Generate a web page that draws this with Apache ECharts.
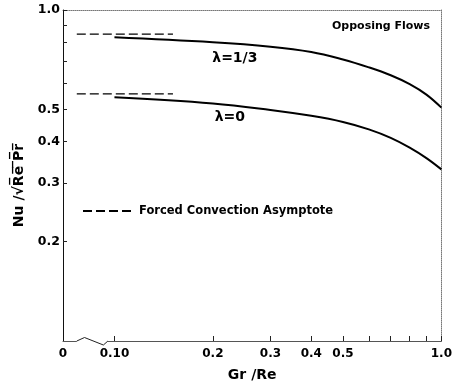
<!DOCTYPE html>
<html>
<head>
<meta charset="utf-8">
<script src="https://cdn.jsdelivr.net/npm/echarts@6/dist/echarts.min.js"></script>
<style>
html, body { margin: 0; padding: 0; background: #fff; }
#chart { width: 455px; height: 389px; }
</style>
</head>
<body>
<div id="chart"></div>
<script>
// Gr/Re values where the curves were read
const grRe = [0.1, 0.2, 0.3, 0.4, 0.5, 0.6, 0.7, 0.8, 0.9, 1.0];
// Nu/sqrt(Re Pr), lambda = 1/3
const nuLambda13 = [0.827, 0.799, 0.775, 0.747, 0.709, 0.671, 0.635, 0.597, 0.555, 0.507];
// Nu/sqrt(Re Pr), lambda = 0
const nuLambda0 = [0.545, 0.522, 0.499, 0.479, 0.459, 0.436, 0.411, 0.384, 0.357, 0.330];

// forced convection asymptotes (short dashed lines)
const asymX = [0.0767, 0.151];
const asymLambda13 = 0.846;
const asymLambda0 = 0.558;

// axis ticks and labels
const xMin = 0.0696, xMax = 1.0;
const xTicks = [0.1, 0.2, 0.3, 0.4, 0.5, 0.6, 0.7, 0.8, 0.9, 1.0];
const xLabels = [0.0696, 0.1, 0.2, 0.3, 0.4, 0.5, 1.0];
const yMin = 0.1, yMax = 1.0;
const yTicks = [0.2, 0.3, 0.4, 0.5, 0.6, 0.7, 0.8, 0.9, 1.0];
const yLabels = [0.2, 0.3, 0.4, 0.5, 1.0];

const font = 'DejaVu Sans';
const chart = echarts.init(document.getElementById('chart'));

function pairs(xs, ys) {
    return xs.map((x, i) => [x, ys[i]]);
}

function curveLabel(text, x, y, dist, dx) {
    return {
        symbol: 'circle',
        symbolSize: 0,
        label: { show: true, formatter: text, position: 'bottom', distance: dist, offset: [dx, 0],
                 color: '#000', fontFamily: font, fontSize: 14, fontWeight: 'bold' },
        data: [{ coord: [x, y] }]
    };
}

const asymName = 'Forced Convection Asymptote';

const option = {
    animation: false,
    backgroundColor: '#fff',
    grid: { left: 63, right: 9, top: 10, bottom: 48 },
    title: {
        text: 'Opposing Flows',
        left: 332, top: 21,
        padding: 0,
        textStyle: { fontFamily: font, fontSize: 11, fontWeight: 'bold', color: '#000' }
    },
    legend: {
        left: 82, top: 205,
        padding: 0,
        itemWidth: 51, itemHeight: 10,
        itemGap: 4,
        data: [{ name: asymName }],
        itemStyle: { opacity: 0 },
        textStyle: { fontFamily: font, fontSize: 11.5, fontWeight: 'bold', color: '#000' }
    },
    xAxis: [{
        type: 'log',
        min: xMin, max: xMax,
        name: 'Gr /Re',
        nameLocation: 'middle',
        nameGap: 27,
        nameTextStyle: { fontFamily: font, fontSize: 14, fontWeight: 'bold', color: '#000' },
        axisLine: { lineStyle: { color: '#555', width: 1 } },
        axisTick: { inside: true, length: 5, customValues: xTicks, lineStyle: { color: '#222' } },
        axisLabel: {
            customValues: xLabels,
            margin: 7,
            fontFamily: font, fontSize: 12, fontWeight: 'bold', color: '#000',
            formatter: v => v < 0.09 ? '0' : (v < 0.15 ? '0.10' : Number(v).toFixed(1))
        },
        splitLine: { show: false },
        minorTick: { show: false }
    }, {
        type: 'log',
        min: xMin, max: xMax,
        position: 'top',
        axisLine: { lineStyle: { color: '#777', width: 1, type: 'dotted' } },
        axisTick: { show: false },
        axisLabel: { show: false },
        splitLine: { show: false }
    }],
    yAxis: [{
        type: 'log',
        min: yMin, max: yMax,
        name: 'Nu /√R̅e̅ ̅P̅r̅',
        nameLocation: 'middle',
        nameGap: 37,
        nameTextStyle: { fontFamily: font, fontSize: 14, fontWeight: 'bold', color: '#000',
                         padding: [0, 20, 0, 0] },
        axisLine: { lineStyle: { color: '#111', width: 1 } },
        axisTick: { inside: true, length: 4, customValues: yTicks, lineStyle: { color: '#222' } },
        axisLabel: {
            customValues: yLabels,
            margin: 3,
            fontFamily: font, fontSize: 12.5, fontWeight: 'bold', color: '#000',
            formatter: v => Number(v).toFixed(1)
        },
        splitLine: { show: false },
        minorTick: { show: false }
    }, {
        type: 'log',
        min: yMin, max: yMax,
        position: 'right',
        axisLine: { lineStyle: { color: '#777', width: 1, type: 'dotted' } },
        axisTick: { show: false },
        axisLabel: { show: false },
        splitLine: { show: false }
    }],
    series: [{
        name: 'λ=1/3',
        type: 'line',
        data: pairs(grRe, nuLambda13),
        smooth: 0.4,
        symbol: 'none',
        lineStyle: { color: '#000', width: 2 },
        markPoint: curveLabel('λ=1/3', grRe[1], nuLambda13[1], 9, 22)
    }, {
        name: 'λ=0',
        type: 'line',
        data: pairs(grRe, nuLambda0),
        smooth: 0.4,
        symbol: 'none',
        lineStyle: { color: '#000', width: 2 },
        markPoint: curveLabel('λ=0', grRe[1], nuLambda0[1], 7, 17)
    }, {
        name: asymName,
        type: 'line',
        data: pairs(asymX, [asymLambda13, asymLambda13]),
        symbol: 'none',
        lineStyle: { color: '#000', width: 1.3, type: [9, 4] }
    }, {
        name: asymName,
        type: 'line',
        data: pairs(asymX, [asymLambda0, asymLambda0]),
        symbol: 'none',
        lineStyle: { color: '#000', width: 1.3, type: [9, 4] }
    }]
};
chart.setOption(option);

// axis break wiggle between "0" and 0.10
const p0 = chart.convertToPixel({ xAxisIndex: 0, yAxisIndex: 0 }, [0.0767, yMin]);
const p1 = chart.convertToPixel({ xAxisIndex: 0, yAxisIndex: 0 }, [0.0855, yMin]);
const p2 = chart.convertToPixel({ xAxisIndex: 0, yAxisIndex: 0 }, [0.0925, yMin]);
const p3 = chart.convertToPixel({ xAxisIndex: 0, yAxisIndex: 0 }, [0.0955, yMin]);
chart.setOption({
    graphic: [{
        type: 'rect',
        shape: { x: p0[0], y: p0[1] - 2, width: p3[0] - p0[0], height: 4 },
        style: { fill: '#fff' },
        z: 100
    }, {
        type: 'polyline',
        shape: { points: [[p0[0], p0[1]], [(p0[0] + p1[0]) / 2, p0[1] - 3.5], [p2[0], p0[1] + 4], [p3[0], p0[1]]] },
        style: { stroke: '#222', lineWidth: 1, fill: null },
        z: 101
    }]
});
</script>
</body>
</html>
